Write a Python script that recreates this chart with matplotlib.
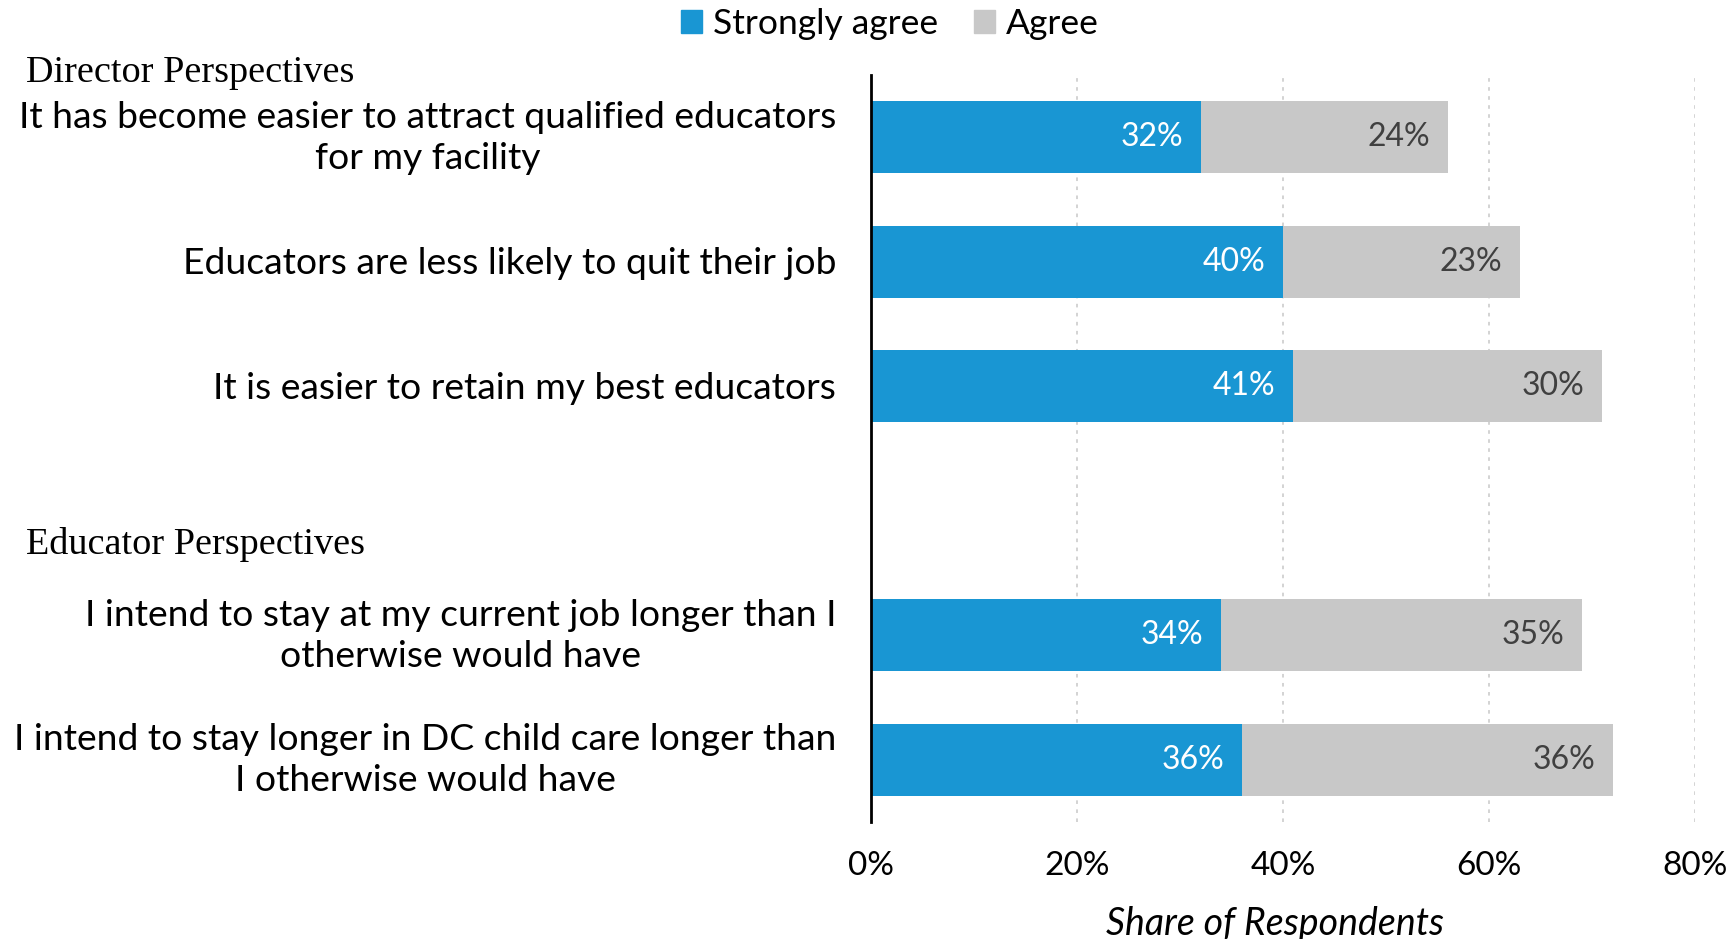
import numpy as np
import matplotlib
matplotlib.use('Agg')
import matplotlib.pyplot as plt
import matplotlib.transforms as mtransforms
from matplotlib.patches import Patch

# Survey responses, share of respondents (%)
statements = [
    'It has become easier to attract qualified educators\nfor my facility',
    'Educators are less likely to quit their job',
    'It is easier to retain my best educators',
    'I intend to stay at my current job longer than I\notherwise would have',
    'I intend to stay longer in DC child care longer than\nI otherwise would have',
]
positions = [0, 1, 2, 4, 5]  # slot 3 left empty between the two groups
strongly_agree = [32, 40, 41, 34, 36]
agree = [24, 23, 30, 35, 36]
sections = ['Director Perspectives', 'Educator Perspectives']
xticks = [0, 20, 40, 60, 80]

blue = '#1996d3'
grey = '#c8c8c8'

plt.rcParams['font.family'] = ['Lato', 'DejaVu Sans']

fig = plt.figure(figsize=(17.31, 9.39), dpi=100)
ax = fig.add_axes([0.5032, 0.1246, 0.476, 0.7955])

sa = np.array(strongly_agree)
ag = np.array(agree)
ax.barh(positions, sa, height=0.58, color=blue)
ax.barh(positions, ag, left=sa, height=0.58, color=grey)

for y, s, a in zip(positions, sa, ag):
    ax.text(s - 1.7, y, f'{s}%', ha='right', va='center', color='white', fontsize=23)
    ax.text(s + a - 1.7, y, f'{a}%', ha='right', va='center', color='#404040', fontsize=23)

ax.set_xlim(0, 80)
ax.set_ylim(5.5, -0.5)
ax.set_xticks(xticks)
ax.set_xticklabels([f'{t}%' for t in xticks], fontsize=24)
ax.set_yticks([])
ax.tick_params(axis='x', length=0, pad=21)

# statement labels, right-aligned left of the axis
label_tr = ax.get_yaxis_transform()
for y, s in zip(positions, statements):
    dy = -0.4 if '\n' in s else -1.6
    tr = label_tr + mtransforms.ScaledTranslation(-25 / 72, dy / 72, fig.dpi_scale_trans)
    ax.text(0, y, s, transform=tr, ha='right', va='center', fontsize=26.8,
            multialignment='center', linespacing=1.31)

for t in xticks[1:]:
    ax.axvline(t, color='#d0d0d0', lw=1.3, ls=(0, (2, 3)), zorder=0)

for side in ['top', 'right', 'bottom']:
    ax.spines[side].set_visible(False)
ax.spines['left'].set_linewidth(2)
ax.spines['left'].set_color('black')

ax.set_xlabel('Share of Respondents', fontsize=27, style='italic', va='center')
ax.xaxis.set_label_coords(0.49, -0.136)

fig.text(26 / 1731, 1 - 73 / 939, sections[0], family='Liberation Serif',
         fontsize=27.5, ha='left', va='center')
fig.text(26 / 1731, 1 - 545 / 939, sections[1], family='Liberation Serif',
         fontsize=27.5, ha='left', va='center')

handles = [Patch(color=blue, label='Strongly agree'), Patch(color=grey, label='Agree')]
fig.legend(handles=handles, loc='center', bbox_to_anchor=(0.514, 1 - 24 / 939),
           ncol=2, frameon=False, fontsize=25.5, handlelength=0.6, handleheight=0.6,
           handletextpad=0.3, columnspacing=1.0, borderpad=0)

fig.savefig('out.png', dpi=100)
